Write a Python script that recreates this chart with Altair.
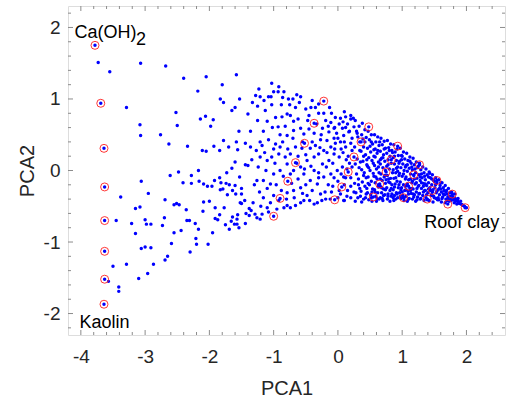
import altair as alt
import pandas as pd

# ---------------- data ----------------
blue_points = [
    # sparse left part
    (-3.73,1.51),(-3.55,1.38),(-3.07,1.50),(-2.68,1.46),(-2.40,1.29),(-2.05,1.31),(-2.18,1.11),(-1.80,1.20),
    (-1.58,1.34),(-3.29,0.88),(-2.52,0.81),(-1.83,1.00),(-1.78,0.95),(-1.53,1.00),(-1.65,0.84),(-1.60,0.88),
    (-1.40,0.79),(-2.14,0.72),(-2.06,0.76),(-1.94,0.71),(-1.98,0.62),(-2.50,0.63),(-3.08,0.64),(-3.07,0.49),
    (-2.76,0.50),(-1.54,0.55),(-2.63,0.37),(-2.34,0.34),(-2.11,0.28),(-2.05,0.27),(-1.93,0.34),(-1.84,0.28),
    (-1.78,0.42),(-1.70,0.33),(-1.58,0.40),(-1.56,0.29),(-1.44,0.38),(-1.36,0.33),(-1.60,0.12),(-1.44,0.08),
    (-1.40,0.07),(-3.06,-0.15),(-2.61,-0.07),(-2.48,-0.02),(-2.41,-0.17),(-2.28,-0.07),(-2.28,-0.18),(-2.17,0.00),
    (-2.16,-0.15),(-2.09,-0.19),(-2.03,-0.22),(-1.96,-0.22),(-1.92,-0.14),(-1.84,-0.10),(-1.82,-0.17),(-1.73,-0.03),
    (-1.65,0.03),(-1.74,-0.18),(-1.69,-0.20),(-1.79,-0.26),(-1.60,-0.21),(-1.53,-0.09),(-1.50,-0.25),(-1.64,-0.28),
    (-1.72,-0.34),(-1.83,-0.27),(-1.59,-0.33),(-1.50,-0.33),(-2.95,-0.32),(-3.38,-0.37),(-2.69,-0.41),
    (-3.15,-0.53),(-3.08,-0.51),(-3.45,-0.70),(-3.21,-0.74),(-3.00,-0.69),(-2.98,-0.75),(-2.91,-0.75),(-3.15,-0.88),
    (-2.73,-0.77),(-2.70,-0.66),(-2.55,-0.87),(-2.44,-0.84),(-2.55,-0.48),(-2.51,-0.46),(-2.47,-0.48),(-2.36,-0.55),
    (-2.35,-0.70),(-2.31,-0.70),(-2.22,-0.74),(-2.17,-0.82),(-2.10,-0.57),(-2.09,-0.44),(-2.00,-0.43),(-1.91,-0.52),
    (-1.91,-0.67),(-1.84,-0.62),(-1.87,-0.69),(-1.95,-0.87),(-1.77,-0.52),(-1.75,-0.76),(-1.69,-0.82),(-1.66,-0.71),
    (-1.64,-0.65),(-1.61,-0.75),(-1.57,-0.75),(-1.56,-0.62),(-1.57,-0.68),(-1.54,-0.80),(-1.52,-0.45),(-1.50,-0.46),
    (-1.44,-0.74),(-1.43,-0.60),(-1.38,-0.53),(-1.38,-0.63),(-1.35,-0.56),(-2.02,-1.03),(-2.21,-0.95),(-2.20,-1.03),
    (-2.30,-1.14),(-2.59,-1.02),(-2.65,-1.20),(-2.69,-1.25),(-2.87,-1.31),(-2.91,-1.08),(-3.00,-1.07),(-3.06,-1.09),
    (-2.96,-1.44),(-3.10,-1.51),(-3.29,-1.31),(-3.50,-1.34),(-3.57,-1.55),(-3.41,-1.63),(-3.41,-1.69),
    (-1.32,-0.45),(-1.30,-0.20),(-1.34,0.15),(-1.36,0.55),(-1.33,0.95),(-1.45,-0.42),
    # middle part
    (-1.23,1.14),(-1.21,1.03),(-1.25,0.90),(-1.08,1.03),(-1.04,1.03),(-1.03,1.22),(-0.92,1.17),(-0.93,1.10),
    (-0.84,1.10),(-0.77,1.00),(-0.70,1.00),(-0.64,1.06),(-0.58,1.03),(-0.66,0.88),(-0.88,0.92),(-1.03,0.92),
    (-1.13,0.84),(-0.97,0.74),(-0.87,0.75),(-0.79,0.79),(-0.74,0.77),(-0.69,0.69),(-1.10,0.69),(-0.93,0.61),
    (-1.08,0.43),(-1.21,0.40),(-1.18,0.35),(-0.97,0.37),(-0.90,0.33),(-0.79,0.49),(-0.69,0.56),(-0.58,0.59),
    (-0.47,0.70),(-0.45,0.77),(-0.42,0.88),(-0.35,0.88),(-0.30,0.80),(-0.22,0.80),(-0.13,0.88),(-0.19,0.70),
    (-0.11,0.67),(-0.04,0.74),(0.04,0.73),(0.12,0.75),(0.20,0.77),(0.24,0.73),(-0.53,0.51),(-0.37,0.52),
    (-0.24,0.59),(-0.14,0.54),(-0.06,0.59),(0.02,0.65),(0.07,0.59),(0.15,0.65),(0.25,0.61),(0.30,0.52),
    (0.17,0.54),(0.09,0.49),(-0.06,0.45),(-0.17,0.42),(-0.27,0.43),(-0.35,0.35),(-0.43,0.31),(-0.56,0.31),
    (-0.66,0.33),(-0.74,0.23),(-0.82,0.19),(-0.92,0.23),(-1.03,0.19),(-1.10,0.14),(-1.21,0.19),(-1.26,-0.14),
    (-1.16,-0.14),(-1.05,-0.19),(-1.00,-0.05),(-0.90,0.00),(-0.79,0.09),(-0.69,0.00),(-0.58,0.05),(-0.53,-0.05),
    (-0.48,0.14),(-0.37,0.19),(-0.30,0.23),(-0.22,0.28),(-0.11,0.33),(-0.04,0.38),(0.04,0.40),(0.12,0.33),
    (0.20,0.38),(-0.06,0.23),(0.02,0.19),(-0.14,0.14),(-0.24,0.09),(-0.37,0.00),(-0.43,-0.14),(-0.32,-0.19),
    (-0.22,-0.09),(-0.11,-0.05),(-0.01,0.00),(0.07,0.05),(0.09,-0.09),(-0.58,-0.24),(-0.69,-0.28),(-0.79,-0.31),
    (-1.00,-0.35),(-1.16,-0.38),(-0.48,-0.35),(-0.27,-0.33),(-0.19,-0.40),(0.04,-0.33),(0.15,-0.28),
    (-1.26,-0.66),(-1.21,-0.68),(-1.29,-0.61),(-1.18,-0.61),(-1.10,-0.52),(-1.08,-0.58),(-0.95,-0.54),(-0.84,-0.52),
    (-0.79,-0.49),(-0.74,-0.52),(-0.66,-0.49),(-0.58,-0.45),(-0.53,-0.42),(-0.37,-0.47),(-0.32,-0.45),(0.09,-0.42),
    (0.00,-0.15),(0.10,-0.20),(0.20,-0.10),(0.18,0.10),(0.05,0.30),(0.22,0.45),(0.12,0.60),(-0.05,0.60),
    (0.20,-0.38),(0.10,-0.42),(-0.10,-0.30),(-0.15,-0.20),(0.22,0.28),(0.13,0.15),(-0.08,0.10),(0.00,0.45),
    (0.18,0.55),(0.08,0.68),(-0.10,0.80),(0.10,0.82),(0.20,0.72),
    (-1.28,1.05),(-1.15,0.98),(-1.00,1.10),(-0.86,1.02),(-0.75,0.92),(-0.60,0.95),(-0.50,0.86),(-0.40,0.98),
    (-0.30,0.93),(-1.25,0.70),(-1.16,0.55),(-1.02,0.60),(-0.90,0.50),(-0.82,0.62),(-0.70,0.45),(-0.62,0.72),
    (-0.55,0.40),(-0.45,0.58),(-0.33,0.65),(-0.26,0.50),(-0.15,0.62),(-0.02,0.52),(0.10,0.40),(-1.27,0.28),
    (-1.14,0.25),(-1.00,0.30),(-0.86,0.40),(-0.78,0.30),(-0.62,0.20),(-0.50,0.22),(-0.40,0.40),(-0.28,0.32),
    (-0.17,0.25),(-0.05,0.30),(0.08,0.25),(0.16,0.20),(-1.24,0.05),(-1.12,0.00),(-0.98,0.10),(-0.85,-0.08),
    (-0.74,-0.05),(-0.64,0.10),(-0.52,0.02),(-0.42,0.06),(-0.30,-0.03),(-0.18,0.05),(-0.06,-0.10),(0.05,-0.05),
    (0.14,0.02),(0.22,0.05),(-1.22,-0.30),(-1.10,-0.25),(-0.96,-0.20),(-0.88,-0.28),(-0.72,-0.18),(-0.62,-0.12),
    (-0.50,-0.20),(-0.40,-0.28),(-0.30,-0.10),(-0.20,-0.30),(-0.08,-0.22),(0.02,-0.28),(0.12,-0.10),(0.20,-0.22),
    (-1.20,-0.50),(-1.05,-0.45),(-0.92,-0.42),(-0.80,-0.40),(-0.68,-0.38),(-0.55,-0.32),(-0.44,-0.42),(-0.25,-0.42),
    (-0.12,-0.40),(0.00,-0.38),(0.14,-0.36),(0.25,-0.30),
    # dense right part
    (0.27,0.70),(0.33,0.62),(0.29,0.55),(0.31,0.47),(0.26,0.33),(0.34,0.28),(0.30,0.16),(0.27,0.09),
    (0.33,0.04),(0.29,-0.05),(0.32,-0.12),(0.26,-0.18),(0.34,-0.25),(0.28,-0.31),(0.31,-0.38),(0.27,-0.43),
    (0.38,0.66),(0.42,0.57),(0.37,0.50),(0.44,0.46),(0.40,0.33),(0.36,0.27),(0.43,0.22),(0.39,0.13),
    (0.45,0.08),(0.37,0.01),(0.41,-0.03),(0.44,-0.10),(0.38,-0.16),(0.42,-0.22),(0.36,-0.29),(0.44,-0.33),
    (0.40,-0.40),(0.37,-0.44),
    (0.47,0.55),(0.52,0.50),(0.49,0.43),(0.54,0.37),(0.46,0.31),(0.51,0.26),(0.48,0.18),(0.53,0.14),
    (0.46,0.06),(0.50,0.00),(0.55,-0.04),(0.47,-0.09),(0.52,-0.15),(0.49,-0.20),(0.54,-0.26),(0.46,-0.31),
    (0.51,-0.34),(0.48,-0.41),(0.53,-0.43),
    (0.57,0.50),(0.62,0.47),(0.59,0.40),(0.64,0.35),(0.56,0.29),(0.61,0.24),(0.58,0.19),(0.63,0.12),
    (0.57,0.07),(0.60,0.02),(0.64,-0.03),(0.56,-0.08),(0.61,-0.12),(0.58,-0.17),(0.63,-0.23),(0.57,-0.27),
    (0.62,-0.31),(0.59,-0.36),(0.64,-0.40),(0.60,-0.43),
    (0.67,0.45),(0.72,0.41),(0.69,0.36),(0.74,0.31),(0.66,0.27),(0.71,0.22),(0.68,0.17),(0.73,0.13),
    (0.66,0.09),(0.70,0.04),(0.74,0.00),(0.67,-0.05),(0.72,-0.09),(0.69,-0.14),(0.74,-0.18),(0.66,-0.22),
    (0.71,-0.26),(0.68,-0.31),(0.73,-0.34),(0.66,-0.38),(0.70,-0.42),
    (0.77,0.42),(0.82,0.37),(0.79,0.32),(0.84,0.28),(0.76,0.24),(0.81,0.20),(0.78,0.15),(0.83,0.10),
    (0.76,0.06),(0.80,0.02),(0.85,-0.03),(0.77,-0.07),(0.82,-0.11),(0.79,-0.16),(0.84,-0.20),(0.76,-0.24),
    (0.81,-0.28),(0.78,-0.33),(0.83,-0.36),(0.77,-0.40),(0.81,-0.43),
    (0.87,0.36),(0.92,0.30),(0.89,0.26),(0.94,0.21),(0.86,0.18),(0.91,0.14),(0.88,0.09),(0.93,0.05),
    (0.86,0.01),(0.90,-0.03),(0.95,-0.07),(0.87,-0.11),(0.92,-0.15),(0.89,-0.19),(0.94,-0.24),(0.86,-0.27),
    (0.91,-0.31),(0.88,-0.35),(0.93,-0.38),(0.87,-0.42),
    (0.97,0.31),(1.02,0.26),(0.99,0.21),(1.04,0.16),(0.96,0.13),(1.01,0.09),(0.98,0.04),(1.03,0.00),
    (0.96,-0.04),(1.00,-0.08),(1.05,-0.12),(0.97,-0.16),(1.02,-0.20),(0.99,-0.24),(1.04,-0.28),(0.96,-0.31),
    (1.01,-0.35),(0.98,-0.39),(1.03,-0.42),
    (1.07,0.24),(1.12,0.19),(1.09,0.14),(1.14,0.10),(1.06,0.07),(1.11,0.03),(1.08,-0.01),(1.13,-0.05),
    (1.06,-0.09),(1.10,-0.13),(1.15,-0.17),(1.07,-0.21),(1.12,-0.25),(1.09,-0.29),(1.14,-0.32),(1.06,-0.36),
    (1.11,-0.39),(1.08,-0.43),
    (1.17,0.17),(1.22,0.12),(1.19,0.08),(1.24,0.04),(1.16,0.01),(1.21,-0.03),(1.18,-0.07),(1.23,-0.11),
    (1.16,-0.15),(1.20,-0.19),(1.25,-0.22),(1.17,-0.26),(1.22,-0.30),(1.19,-0.34),(1.24,-0.37),(1.16,-0.40),
    (1.21,-0.43),
    (1.27,0.10),(1.32,0.05),(1.29,0.01),(1.34,-0.03),(1.26,-0.06),(1.31,-0.10),(1.28,-0.14),(1.33,-0.18),
    (1.26,-0.21),(1.30,-0.25),(1.35,-0.28),(1.27,-0.32),(1.32,-0.35),(1.29,-0.39),(1.34,-0.42),
    (1.37,0.02),(1.42,-0.02),(1.39,-0.06),(1.44,-0.10),(1.36,-0.13),(1.41,-0.17),(1.38,-0.21),(1.43,-0.24),
    (1.36,-0.28),(1.40,-0.31),(1.45,-0.35),(1.37,-0.38),(1.42,-0.42),
    (1.47,-0.06),(1.52,-0.10),(1.49,-0.14),(1.54,-0.17),(1.46,-0.20),(1.51,-0.24),(1.48,-0.27),(1.53,-0.31),
    (1.46,-0.34),(1.50,-0.38),(1.55,-0.41),(1.48,-0.44),
    (1.57,-0.13),(1.62,-0.17),(1.59,-0.21),(1.64,-0.24),(1.56,-0.27),(1.61,-0.30),(1.58,-0.34),(1.63,-0.37),
    (1.57,-0.41),(1.61,-0.44),
    (1.67,-0.21),(1.72,-0.25),(1.69,-0.28),(1.74,-0.31),(1.66,-0.34),(1.71,-0.37),(1.68,-0.40),(1.73,-0.43),
    (1.67,-0.45),
    (1.77,-0.30),(1.82,-0.33),(1.79,-0.37),(1.84,-0.40),(1.76,-0.42),(1.81,-0.45),(1.85,-0.47),
    (1.87,-0.39),(1.91,-0.43),(1.89,-0.46),(1.93,-0.48),(1.97,-0.50),(2.00,-0.52),
    (0.52,-0.38),(0.58,-0.30),(0.63,-0.20),(0.69,-0.39),(0.74,-0.27),(0.79,-0.12),(0.84,-0.33),(0.88,-0.23),
    (0.93,-0.01),(0.97,-0.36),(1.02,-0.05),(1.06,-0.27),(1.10,-0.33),(1.13,-0.12),(1.18,-0.37),(1.22,-0.17),
    (1.26,-0.33),(1.30,-0.05),(1.33,-0.22),(1.38,-0.34),(1.41,-0.09),(1.44,-0.28),(1.49,-0.36),(1.52,-0.20),
    (1.56,-0.38),(1.60,-0.26),(1.64,-0.33),(1.70,-0.42),(1.74,-0.36),(1.79,-0.41),(1.83,-0.43),(0.55,0.10),
    (0.62,0.28),(0.70,0.18),(0.78,0.08),(0.85,0.25),(0.91,0.03),(0.99,0.15),(1.05,0.05),(1.12,0.13),
    (1.20,0.02),(1.28,-0.09),(0.45,-0.25),(0.40,-0.07),(0.35,0.12),(0.42,0.40),(0.48,0.04),(0.66,-0.12),
    (0.73,-0.07),(0.81,-0.17),(0.90,-0.40),(0.95,-0.20),(1.00,-0.30),(1.08,-0.19),(1.15,-0.25),(1.23,-0.41),
    (1.36,-0.19),(1.46,-0.12),(1.54,-0.29),(1.62,-0.39),(1.68,-0.30),(1.76,-0.38),(1.87,-0.44),(1.92,-0.47),
    (1.95,-0.49),
    (0.32,-0.20),(0.35,-0.36),(0.39,0.44),(0.43,-0.38),(0.47,-0.18),(0.50,0.34),(0.53,-0.30),(0.56,0.20),
    (0.59,-0.09),(0.61,-0.39),(0.63,0.05),(0.65,0.40),(0.68,-0.24),(0.71,-0.35),(0.72,0.30),(0.75,-0.13),
    (0.78,-0.36),(0.80,0.28),(0.83,-0.25),(0.86,-0.38),(0.88,0.20),(0.90,-0.10),(0.92,-0.33),(0.95,0.10),
    (0.98,-0.27),(1.00,0.20),(1.03,-0.38),(1.05,-0.22),(1.08,0.08),(1.10,-0.40),(1.13,-0.28),(1.15,0.05),
    (1.17,-0.33),(1.19,-0.12),(1.23,-0.25),(1.25,0.06),(1.28,-0.40),(1.30,-0.17),(1.33,-0.30),(1.35,-0.08),
    (1.39,-0.41),(1.41,-0.26),(1.43,-0.04),(1.47,-0.30),(1.50,-0.15),(1.53,-0.39),(1.58,-0.25),(1.60,-0.17),
    (1.65,-0.28),(1.70,-0.33),(1.72,-0.40),(1.78,-0.34),(1.82,-0.39),(1.86,-0.42),(0.34,0.40),(0.40,0.20),
    (0.45,0.15),(0.52,0.40),(0.58,0.30),(0.66,0.15),
]

# red-circled samples
circle_x = [-3.78, -3.69, -3.64, -3.63, -3.63, -3.63, -3.63, -3.64,
            -0.22, -0.37, -0.52, -0.66, -0.78, -0.90, -1.00,
            -0.05, 0.06, 0.16, 0.25, 0.36, 0.48,
            0.93, 0.83, 0.75, 0.65, 0.55,
            1.02, 1.10, 1.18, 1.27,
            1.54, 1.47, 1.39, 1.78, 1.71, 1.98]
circle_y = [1.75, 0.94, 0.31, -0.23, -0.70, -1.13, -1.52, -1.87,
            0.97, 0.66, 0.38, 0.11, -0.15, -0.39, -0.64,
            -0.41, -0.23, -0.02, 0.19, 0.40, 0.61,
            0.34, 0.15, -0.02, -0.19, -0.37,
            -0.38, -0.22, -0.06, 0.08,
            -0.14, -0.28, -0.40, -0.33, -0.47, -0.52]

ann_text = ["Ca(OH)", "2", "Kaolin"]
ann_x = [-4.10, -3.14, -4.02]
ann_y = [1.855, 1.755, -2.20]
right_text = ["Roof clay"]
right_x = [2.51]
right_y = [-0.81]

x_major = [-4, -3, -2, -1, 0, 1, 2]
x_minor = [-3.8, -3.6, -3.4, -3.2, -2.8, -2.6, -2.4, -2.2, -1.8, -1.6, -1.4, -1.2,
           -0.8, -0.6, -0.4, -0.2, 0.2, 0.4, 0.6, 0.8, 1.2, 1.4, 1.6, 1.8, 2.2, 2.4]
y_major = [-2, -1, 0, 1, 2]
y_minor = [-2.2, -1.8, -1.6, -1.4, -1.2, -0.8, -0.6, -0.4, -0.2,
           0.2, 0.4, 0.6, 0.8, 1.2, 1.4, 1.6, 1.8, 2.2]

# ---------------- chart ----------------
W, H = 437, 329
FONT = "Liberation Sans"
AX = "#8c8c8c"
TXT = "#262626"

xs = alt.Scale(domain=[-4.2, 2.6], nice=False, zero=False)
ys = alt.Scale(domain=[-2.3, 2.3], nice=False, zero=False)

blue_df = pd.DataFrame({"x": [p[0] for p in blue_points], "y": [p[1] for p in blue_points]})
circ_df = pd.DataFrame({"x": circle_x, "y": circle_y})

x_axis = alt.Axis(title="PCA1", values=x_major, labelPadding=12,
                  titleY=59, titleBaseline="alphabetic")
y_axis = alt.Axis(title="PCA2", values=y_major, labelPadding=8,
                  titleX=-35, titleBaseline="alphabetic")

blue = alt.Chart(blue_df).mark_circle(size=12, color="#0000ff", opacity=1).encode(
    x=alt.X("x:Q", scale=xs, axis=x_axis),
    y=alt.Y("y:Q", scale=ys, axis=y_axis),
)
blue_c = alt.Chart(circ_df).mark_circle(size=12, color="#0000ff", opacity=1).encode(
    x=alt.X("x:Q", scale=xs), y=alt.Y("y:Q", scale=ys))
circles = alt.Chart(circ_df).mark_point(shape="circle", size=64, filled=False, color="#ff2020",
                                        strokeWidth=0.9, opacity=1).encode(
    x=alt.X("x:Q", scale=xs), y=alt.Y("y:Q", scale=ys))
ann_left = alt.Chart(pd.DataFrame({"x": ann_x, "y": ann_y, "t": ann_text})).mark_text(
    align="left", baseline="alphabetic", font=FONT, fontSize=18, color="black").encode(
    x=alt.X("x:Q", scale=xs), y=alt.Y("y:Q", scale=ys), text="t:N")
ann_right = alt.Chart(pd.DataFrame({"x": right_x, "y": right_y, "t": right_text})).mark_text(
    align="right", baseline="alphabetic", font=FONT, fontSize=18, color="black").encode(
    x=alt.X("x:Q", scale=xs), y=alt.Y("y:Q", scale=ys), text="t:N")


def xticks(vals, length):
    d = pd.DataFrame({"x": vals})
    bot = alt.Chart(d).mark_rule(color=AX, strokeWidth=1).encode(
        x=alt.X("x:Q", scale=xs), y=alt.value(H), y2=alt.value(H - length))
    top = alt.Chart(d).mark_rule(color=AX, strokeWidth=1).encode(
        x=alt.X("x:Q", scale=xs), y=alt.value(0), y2=alt.value(length))
    return [bot, top]


def yticks(vals, length):
    d = pd.DataFrame({"y": vals})
    left = alt.Chart(d).mark_rule(color=AX, strokeWidth=1).encode(
        y=alt.Y("y:Q", scale=ys), x=alt.value(0), x2=alt.value(length))
    right = alt.Chart(d).mark_rule(color=AX, strokeWidth=1).encode(
        y=alt.Y("y:Q", scale=ys), x=alt.value(W), x2=alt.value(W - length))
    return [left, right]


tick_layers = xticks(x_major, 5) + xticks(x_minor, 3) + yticks(y_major, 5) + yticks(y_minor, 3)

chart = alt.layer(blue, blue_c, circles, ann_left, ann_right, *tick_layers).properties(
    width=W, height=H,
    autosize=alt.AutoSizeParams(type="none"),
    padding={"left": 68, "top": 6, "right": 3, "bottom": 63},
).configure_view(stroke=AX, strokeWidth=1).configure(background="white").configure_axis(
    ticks=False, domain=False, grid=False,
    labelFont=FONT, labelFontSize=19, labelColor=TXT, labelExpr="'' + datum.value",
    titleFont=FONT, titleFontSize=20, titleColor=TXT, titleFontWeight="normal",
)

chart.save("out.html", embed_options={"renderer": "svg", "actions": False})
